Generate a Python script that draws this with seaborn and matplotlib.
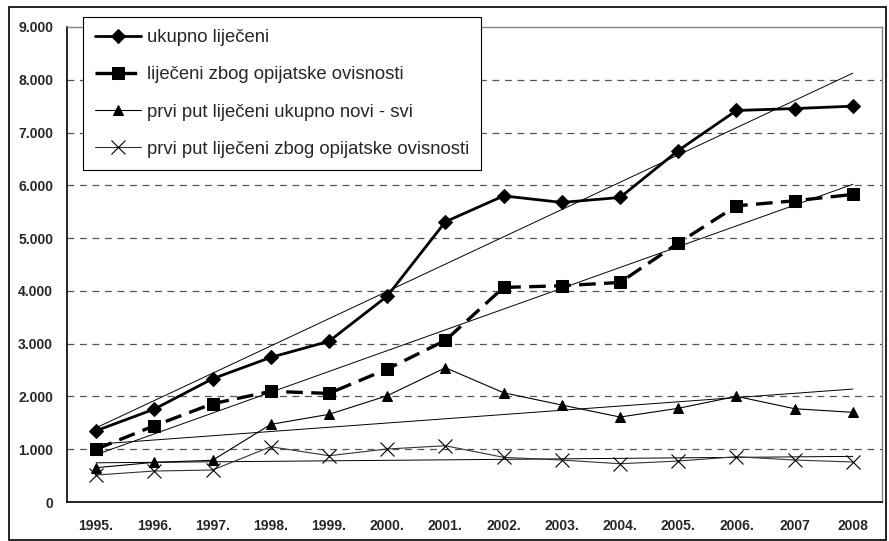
import numpy as np
import pandas as pd
import matplotlib
matplotlib.use("Agg")
import matplotlib.pyplot as plt
import seaborn as sns
from matplotlib.ticker import FuncFormatter

# data
years = ["1995.", "1996.", "1997.", "1998.", "1999.", "2000.", "2001.",
         "2002.", "2003.", "2004.", "2005.", "2006.", "2007", "2008"]
ukupno = [1350, 1760, 2335, 2740, 3045, 3900, 5310,
          5800, 5676, 5770, 6660, 7418, 7455, 7500]
opijati = [1000, 1445, 1862, 2096, 2058, 2519, 3062,
           4066, 4097, 4160, 4905, 5612, 5707, 5828]
novi_svi = [650, 752, 790, 1471, 1661, 2013, 2544,
            2070, 1837, 1610, 1775, 2002, 1767, 1699]
novi_opijati = [511, 587, 606, 1047, 877, 1004, 1066,
                846, 795, 725, 776, 858, 795, 758]

labels = ["ukupno liječeni",
          "liječeni zbog opijatske ovisnosti",
          "prvi put liječeni ukupno novi - svi",
          "prvi put liječeni zbog opijatske ovisnosti"]

sns.set_style("white")
plt.rcParams["font.family"] = ["Liberation Sans", "DejaVu Sans"]

df = pd.DataFrame({"x": np.arange(len(years)),
                   "ukupno": ukupno, "opijati": opijati,
                   "novi_svi": novi_svi, "novi_opijati": novi_opijati})

fig = plt.figure(figsize=(8.89, 5.41), dpi=100)
ax = fig.add_axes([67 / 889, 1 - 502 / 541, 815 / 889, 475 / 541])

# grid
for v in range(1000, 9000, 1000):
    ax.axhline(v, color="#555555", lw=0.9, dashes=(5.5, 4.5), zorder=0)

# linear trend lines
for col in ["ukupno", "opijati", "novi_svi", "novi_opijati"]:
    sns.regplot(data=df, x="x", y=col, ax=ax, scatter=False, ci=None,
                line_kws=dict(color="black", lw=0.7), truncate=True)

styles = [
    ("ukupno", dict(color="black", lw=2.0, marker="D", markersize=7,
                    markeredgecolor="black")),
    ("opijati", dict(color="black", lw=2.4, marker="s", markersize=9,
                     markeredgecolor="black", dashes=(5, 2.5))),
    ("novi_svi", dict(color="black", lw=0.8, marker="^", markersize=7,
                      markeredgecolor="black")),
    ("novi_opijati", dict(color="#333333", lw=0.8, marker="x", markersize=10,
                          markeredgecolor="black", markeredgewidth=0.8)),
]
handles = []
for (col, kw), lab in zip(styles, labels):
    sns.lineplot(data=df, x="x", y=col, ax=ax, label=lab, zorder=3, **kw)
    handles.append(ax.lines[-1])

ax.set_xlim(-0.5, len(years) - 0.5)
ax.set_ylim(0, 9000)
ax.set_xticks(np.arange(len(years)))
ax.set_xticklabels(years)
ax.set_xticks(np.arange(len(years) + 1) - 0.5, minor=True)
ax.tick_params(axis="x", which="major", length=0, pad=12)
ax.tick_params(axis="x", which="minor", length=5, width=0.8, direction="out", color="black")
ax.set_yticks(range(0, 9001, 1000))
ax.yaxis.set_major_formatter(FuncFormatter(lambda v, p: f"{int(v):,}".replace(",", ".")))
ax.tick_params(axis="y", length=4, width=0.8, direction="out", color="black", pad=6)
for t in ax.get_xticklabels() + ax.get_yticklabels():
    t.set_fontweight("bold")
    t.set_fontsize(10)
ax.set_xlabel("")
ax.set_ylabel("")

for s in ["left", "bottom"]:
    ax.spines[s].set_color("black")
    ax.spines[s].set_linewidth(1.2)
for s in ["top", "right"]:
    ax.spines[s].set_color("#808080")
    ax.spines[s].set_linewidth(1.0)

ax.legend(handles=handles, labels=labels, loc="upper left",
          bbox_to_anchor=(83 / 889, 1 - 17 / 541), bbox_transform=fig.transFigure,
          fontsize=13.3, frameon=True, fancybox=False, edgecolor="black",
          framealpha=1, handlelength=2.5, handletextpad=0.3, labelspacing=1.1,
          borderpad=0.65, borderaxespad=0)
ax.get_legend().get_frame().set_linewidth(0.8)

# outer chart border
fig.patches.append(plt.Rectangle((9 / 889, 0.002), 877 / 889, 1 - 7 / 541 - 0.002,
                                 transform=fig.transFigure, fill=False,
                                 edgecolor="black", lw=1.2))

fig.savefig("out.png", dpi=100)
